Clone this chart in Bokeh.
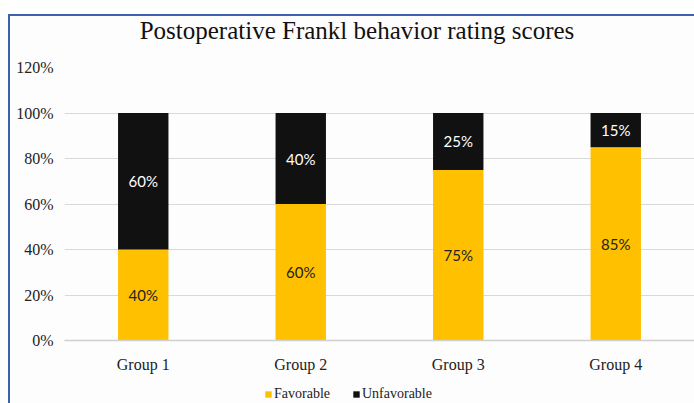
from bokeh.plotting import figure
from bokeh.models import ColumnDataSource, NumeralTickFormatter, FixedTicker, Legend, Div
from bokeh.layouts import column
from bokeh.core.properties import value
from bokeh.embed import file_html
from bokeh.resources import INLINE

groups = ["Group 1", "Group 2", "Group 3", "Group 4"]
favorable = [0.40, 0.60, 0.75, 0.85]
unfavorable = [0.60, 0.40, 0.25, 0.15]
series = ["Favorable", "Unfavorable"]
colors = ["#FFC000", "#111111"]
yticks = [0, 0.2, 0.4, 0.6, 0.8, 1.0, 1.2]
title_text = "Postoperative Frankl behavior rating scores"

BG = "#fdfdfd"

title_div = Div(text=title_text, width=684, height=36, margin=0,
                styles={"font-family": "Liberation Serif", "font-size": "25px",
                        "line-height": "30px", "text-align": "center", "color": "#111111",
                        "text-indent": "10px", "background-color": BG})

src = ColumnDataSource(dict(group=groups, Favorable=favorable, Unfavorable=unfavorable))

p = figure(x_range=groups, y_range=(0, 1.2), width=684, height=328,
           output_backend="svg", toolbar_location=None,
           min_border_left=54, min_border_right=0, min_border_top=15, min_border_bottom=40,
           background_fill_color=BG, border_fill_color=BG)
p.outline_line_color = None

r = p.vbar_stack(series, x="group", width=0.32, color=colors, source=src, line_color=None)

fav_mid = [f / 2 for f in favorable]
unf_mid = [f + u / 2 for f, u in zip(favorable, unfavorable)]
lab = ColumnDataSource(dict(
    x=groups + groups,
    y=fav_mid + unf_mid,
    t=[f"{round(v*100)}%" for v in favorable] + [f"{round(v*100)}%" for v in unfavorable],
    c=["#222222"] * 4 + ["#ffffff"] * 4,
))
p.text(x="x", y="y", text="t", text_color="c", source=lab, text_align="center",
       text_baseline="middle", text_font=value("Lato"), text_font_size="15px")

p.yaxis.ticker = FixedTicker(ticks=yticks)
p.yaxis.formatter = NumeralTickFormatter(format="0%")
p.yaxis.axis_line_color = None
p.yaxis.major_tick_line_color = None
p.yaxis.minor_tick_line_color = None
p.yaxis.major_label_text_font = "Liberation Serif"
p.yaxis.major_label_text_font_size = "16px"
p.yaxis.major_label_text_color = "#222222"
p.yaxis.major_label_standoff = 5

p.xaxis.axis_line_color = "#d0d0d0"
p.xaxis.axis_line_width = 1.5
p.xaxis.major_tick_line_color = None
p.xaxis.minor_tick_line_color = None
p.xaxis.major_label_text_font = "Liberation Serif"
p.xaxis.major_label_text_font_size = "16px"
p.xaxis.major_label_text_color = "#222222"
p.xaxis.major_label_standoff = 9

p.xgrid.grid_line_color = None
p.ygrid.grid_line_color = "#d9d9d9"
p.ygrid.ticker = FixedTicker(ticks=yticks)

# legend strip (zero-height placeholder bars carry the legend swatches)
lg = figure(width=684, height=23, x_range=(0, 1), y_range=(0, 1),
            output_backend="svg", toolbar_location=None,
            min_border_left=0, min_border_right=0, min_border_top=0, min_border_bottom=0,
            background_fill_color=BG, border_fill_color=BG,
            x_axis_location=None, y_axis_location=None)
lg.outline_line_color = None
lg.grid.grid_line_color = None
lr = [lg.vbar(x=[0.5], top=[0], bottom=[0], width=0.01, color=c, line_color=None) for c in colors]
legend = Legend(items=[(s, [rr]) for s, rr in zip(series, lr)], orientation="horizontal",
                location=(200, 1), label_text_font="Liberation Serif", label_text_font_size="14px",
                label_text_color="#222222",
                glyph_width=8, glyph_height=8, label_standoff=2, spacing=22,
                border_line_color=None, background_fill_alpha=0, padding=2, margin=0)
lg.add_layout(legend)

layout = column(title_div, p, lg, spacing=0,
                styles={"margin-left": "8px", "margin-top": "14px",
                        "border-left": "2px solid #3d62b0", "border-top": "2px solid #3d62b0",
                        "background-color": BG})

open("out.html", "w").write(file_html(layout, INLINE))
